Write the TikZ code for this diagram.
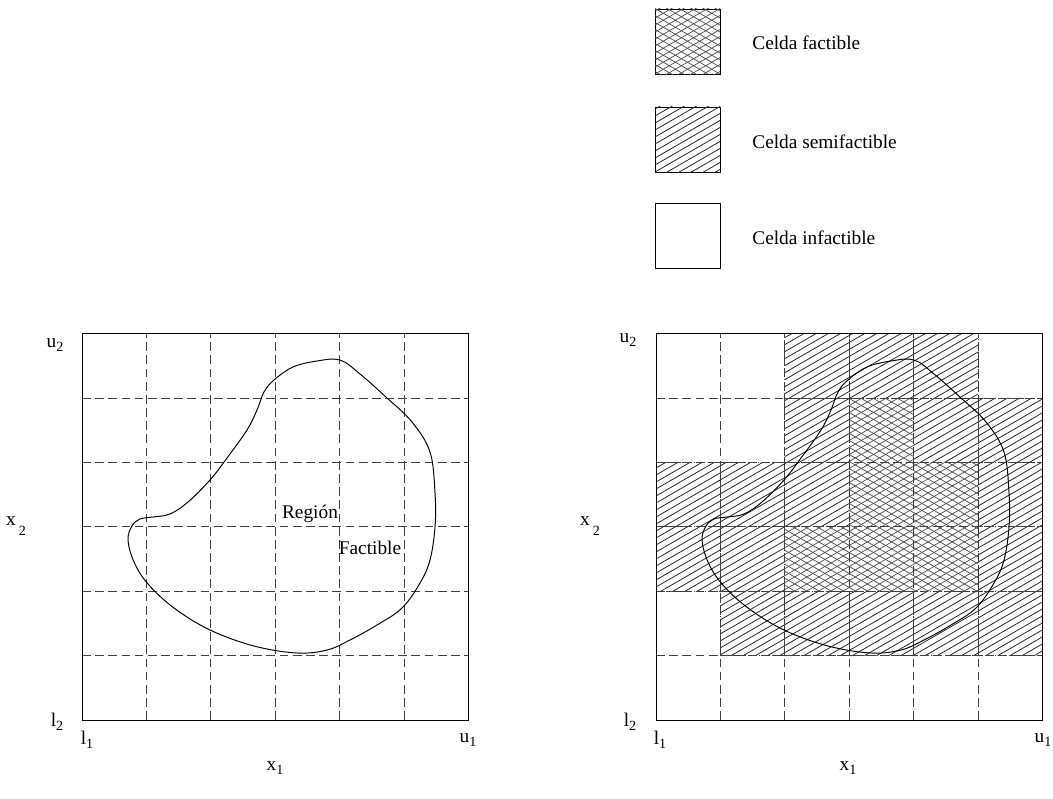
\documentclass[tikz,border=0pt]{standalone}
\usepackage{fontspec}
\setmainfont{Liberation Serif}
\newcommand{\sublbl}[3][-0.5ex]{#2\raisebox{#1}{\footnotesize #3}}
\newcommand{\regioncurve}{plot[smooth cycle,tension=0.6] coordinates {
(46,180) (52,158) (66,136) (92,112) (128,90) (172,74) (215,67)
(245,70) (268,80) (295,95) (320,112) (338,137) (348,160) (353,193)
(353,227) (348,268) (330,298) (305,322) (278,346) (258,360) (235,359)
(211,353) (192,340) (182,328) (175,310) (165,290) (145,262) (128,240)
(106,218) (88,206) (71,203) (58,201) (50,194)}}

\begin{document}
\begin{tikzpicture}[x=0.02cm,y=0.02cm]
\tikzstyle{every node}=[font=\fontsize{11}{13}\selectfont, inner sep=0pt]
\tikzstyle{gridline}=[black!75, line width=0.5pt, dash pattern=on 5pt off 2.5pt]
\tikzstyle{cellline}=[black!75, line width=0.4pt, dash pattern=on 3pt off 1.2pt on 0.6pt off 1.2pt]
\tikzstyle{semiline}=[black!85, line width=0.45pt]
\tikzstyle{factline}=[black!70, line width=0.4pt]
\tikzstyle{legbox}=[draw, line width=0.5pt, minimum size=1.3cm]
\useasboundingbox (0,0) rectangle (1053,798);

\node[legbox] (lfact) at (687.5,756.5) {};
\node[legbox] (lsemi) at (687.5,658.5) {};
\node[legbox] (linf) at (687.5,562.5) {};
\begin{scope}
\clip (lfact.south west) rectangle (lfact.north east);
\foreach \b in {-42,-35,...,70} {
  \draw[factline] (655,724+\b) -- ++(65,37.5);
  \draw[factline] (655,761.5+\b) -- ++(65,-37.5);
}
\end{scope}
\begin{scope}
\clip (lsemi.south west) rectangle (lsemi.north east);
\foreach \b in {-42,-35,...,70}
  \draw[semiline] (655,626+\b) -- ++(65,37.5);
\end{scope}
\node[anchor=west] (tfact) at (752,755) {Celda factible};
\node[anchor=west] (tsemi) at (752,656) {Celda semifactible};
\node[anchor=west] (tinf) at (752,560) {Celda infactible};

\begin{scope}[shift={(82,78)}]
\foreach \i in {1,...,5} {
  \draw[gridline] (\i*64.4,0) -- (\i*64.4,386.4);
  \draw[gridline] (0,\i*64.4) -- (386.4,\i*64.4);
}
\draw[line width=0.55pt] \regioncurve;
\draw[line width=0.5pt] (0,0) rectangle (386.4,386.4);
\end{scope}
\node (lu2) at (55,453) {\sublbl{u}{2}};
\node (ll2) at (57,76) {\sublbl{l}{2}};
\node (lx2) at (16,272) {\sublbl[-1.1ex]{x\,}{2}};
\node (ll1) at (87,58) {\sublbl{l}{1}};
\node (lu1) at (468,58) {\sublbl{u}{1}};
\node (lx1) at (275,30) {\sublbl{x}{1}};
\node (reg) at (310,284) {Región};
\node (fac) at (370,250) {Factible};

\begin{scope}[shift={(656,78)}]
\begin{scope}
\clip \foreach \c/\r in {2/5,3/5,4/5,2/4,4/4,5/4,0/3,1/3,2/3,5/3,0/2,1/2,5/2,1/1,2/1,3/1,4/1,5/1}
  {(\c*64.4,\r*64.4) rectangle ++(64.4,64.4)};
\foreach \b in {-231,-224,...,392}
  \draw[semiline] (0,\b) -- (386.4,\b+223.1);
\end{scope}
\begin{scope}
\clip \foreach \c/\r in {3/4,3/3,4/3,2/2,3/2,4/2}
  {(\c*64.4,\r*64.4) rectangle ++(64.4,64.4)};
\foreach \b in {-231,-224,...,392} {
  \draw[factline] (0,\b) -- (386.4,\b+223.1);
  \draw[factline] (0,\b+223.1) -- (386.4,\b);
}
\end{scope}
\foreach \c/\r in {2/5,3/5,4/5,2/4,4/4,5/4,0/3,1/3,2/3,5/3,0/2,1/2,5/2,1/1,2/1,3/1,4/1,5/1}
  \draw[cellline] (\c*64.4,\r*64.4) rectangle ++(64.4,64.4);
\foreach \i in {1,...,5} {
  \draw[gridline] (\i*64.4,0) -- (\i*64.4,386.4);
  \draw[gridline] (0,\i*64.4) -- (386.4,\i*64.4);
}
\draw[line width=0.55pt] \regioncurve;
\draw[line width=0.5pt] (0,0) rectangle (386.4,386.4);
\end{scope}
\node (ru2) at (628,458) {\sublbl{u}{2}};
\node (rl2) at (630,76) {\sublbl{l}{2}};
\node (rx2) at (590,272) {\sublbl[-1.1ex]{x\,}{2}};
\node (rl1) at (660,58) {\sublbl{l}{1}};
\node (ru1) at (1043,58) {\sublbl{u}{1}};
\node (rx1) at (848,30) {\sublbl{x}{1}};
\end{tikzpicture}
\end{document}
